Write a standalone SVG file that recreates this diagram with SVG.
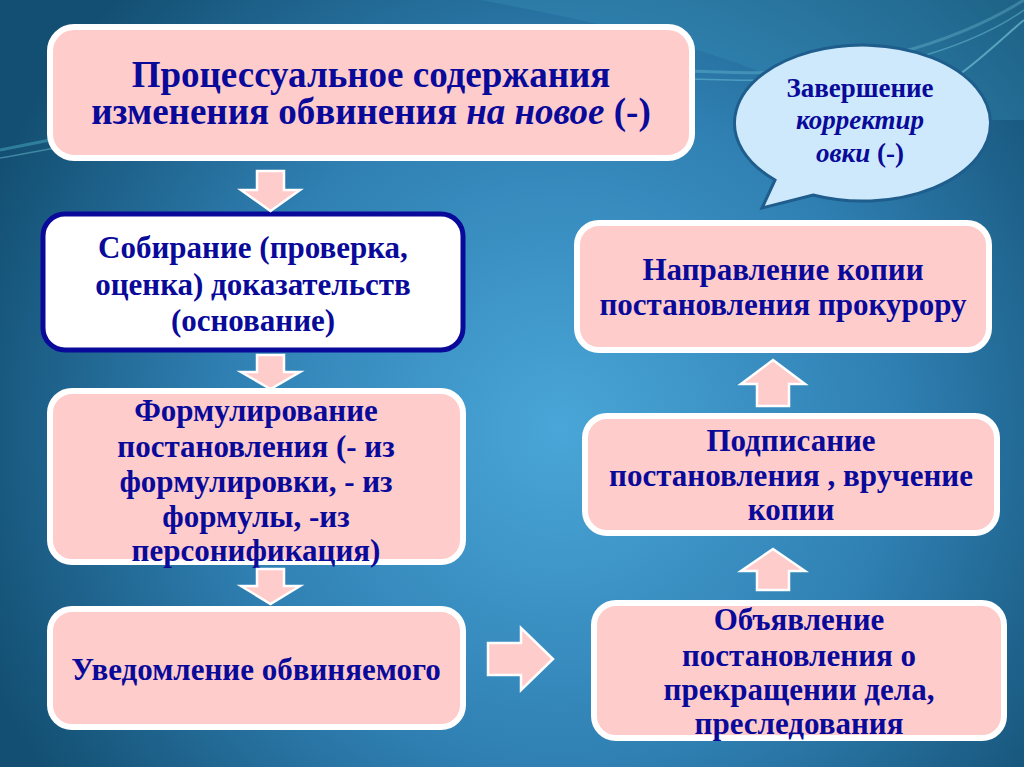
<svg xmlns="http://www.w3.org/2000/svg" width="1024" height="767" viewBox="0 0 1024 767">
<defs>
<radialGradient id="bg" cx="560" cy="430" r="620" gradientUnits="userSpaceOnUse">
<stop offset="0" stop-color="#4aa6d8"/>
<stop offset="0.55" stop-color="#2f7fb2"/>
<stop offset="1" stop-color="#134f72"/>
</radialGradient>
<linearGradient id="sw" x1="0" y1="0" x2="1" y2="0">
<stop offset="0" stop-color="#5fd0e0" stop-opacity="0.7"/>
<stop offset="1" stop-color="#8fe0ef" stop-opacity="0.5"/>
</linearGradient>
<style>
.pink{fill:#ffcccc;stroke:#ffffff;stroke-width:6}
.white{fill:#ffffff;stroke:#0a0a9a;stroke-width:5}
.t{font-family:"Liberation Serif","DejaVu Serif",serif;font-weight:bold;fill:#0a0a9a;text-anchor:middle;font-size:31px}
.arr{fill:#ffcccc;stroke:#ffffff;stroke-width:2.5;stroke-linejoin:miter}
</style>
</defs>
<rect width="1024" height="767" fill="url(#bg)"/>
<path d="M480,0 C640,30 760,60 860,120 L1024,120 L1024,0 Z" fill="#3a95bd" opacity="0.3"/>
<path d="M0,150 C200,110 450,60 720,72 C850,78 960,40 1024,0" fill="none" stroke="url(#sw)" stroke-width="3" opacity="0.5"/>
<path d="M0,158 C220,118 460,72 730,80 C860,84 970,48 1024,10" fill="none" stroke="#7fd6e6" stroke-width="1.5" opacity="0.4"/>
<path d="M930,95 C970,70 1000,40 1024,20" fill="none" stroke="#8fe0ef" stroke-width="2" opacity="0.5"/>

<g id="n1">
<rect class="pink" x="50" y="27" width="642" height="131" rx="24"/>
<text class="t" x="371" y="87" style="font-size:37px">Процессуальное содержания</text>
<text class="t" x="371" y="124" style="font-size:37px">изменения обвинения <tspan font-style="italic">на новое</tspan> (-)</text>
</g>

<g id="n2">
<path d="M775,180 L762,208 L813,195 A128,78 0 1 0 775,180 Z" fill="#cde9fb" stroke="#1e5d8c" stroke-width="3"/>
<text class="t" x="860" y="97" style="font-size:27px">Завершение</text>
<text class="t" x="860" y="129" style="font-size:27px" font-style="italic">корректир</text>
<text class="t" x="860" y="162" style="font-size:27px"><tspan font-style="italic">овки</tspan> (-)</text>
</g>

<g id="n3">
<rect class="white" x="43" y="214" width="420" height="136" rx="22"/>
<text class="t" x="253" y="258">Собирание (проверка,</text>
<text class="t" x="253" y="295">оценка) доказательств</text>
<text class="t" x="253" y="331">(основание)</text>
</g>

<g id="n4">
<rect class="pink" x="50" y="391" width="413" height="171" rx="22"/>
<text class="t" x="256" y="421">Формулирование</text>
<text class="t" x="256" y="457">постановления (- из</text>
<text class="t" x="256" y="492">формулировки, - из</text>
<text class="t" x="256" y="527">формулы, -из</text>
<text class="t" x="256" y="561">персонификация)</text>
</g>

<g id="n5">
<rect class="pink" x="50" y="609" width="413" height="118" rx="22"/>
<text class="t" x="256" y="680">Уведомление обвиняемого</text>
</g>

<g id="n6">
<rect class="pink" x="577" y="223" width="412" height="127" rx="22"/>
<text class="t" x="783" y="280">Направление  копии</text>
<text class="t" x="783" y="315">постановления прокурору</text>
</g>

<g id="n7">
<rect class="pink" x="585" y="416" width="412" height="117" rx="22"/>
<text class="t" x="791" y="451">Подписание</text>
<text class="t" x="791" y="486">постановления , вручение</text>
<text class="t" x="791" y="520">копии</text>
</g>

<g id="n8">
<rect class="pink" x="594" y="603" width="410" height="135" rx="22"/>
<text class="t" x="799" y="630">Объявление</text>
<text class="t" x="799" y="666">постановления о</text>
<text class="t" x="799" y="700">прекращении дела,</text>
<text class="t" x="799" y="734">преследования</text>
</g>

<g id="connectors">
<polygon class="arr" points="257,171 284,171 284,190 300,190 270.5,211 241,190 257,190"/>
<polygon class="arr" points="257,355 284,355 284,372 300,372 270.5,389 241,372 257,372"/>
<polygon class="arr" points="257,569 284,569 284,586 300,586 270.5,604 241,586 257,586"/>
<polygon class="arr" points="488,643 521,643 521,628 553,659 521,690 521,675 488,675"/>
<polygon class="arr" points="773,360 805,384 789,384 789,406 757,406 757,384 741,384"/>
<polygon class="arr" points="773,549 805,571 789,571 789,590 757,590 757,571 741,571"/>
</g>
</svg>
